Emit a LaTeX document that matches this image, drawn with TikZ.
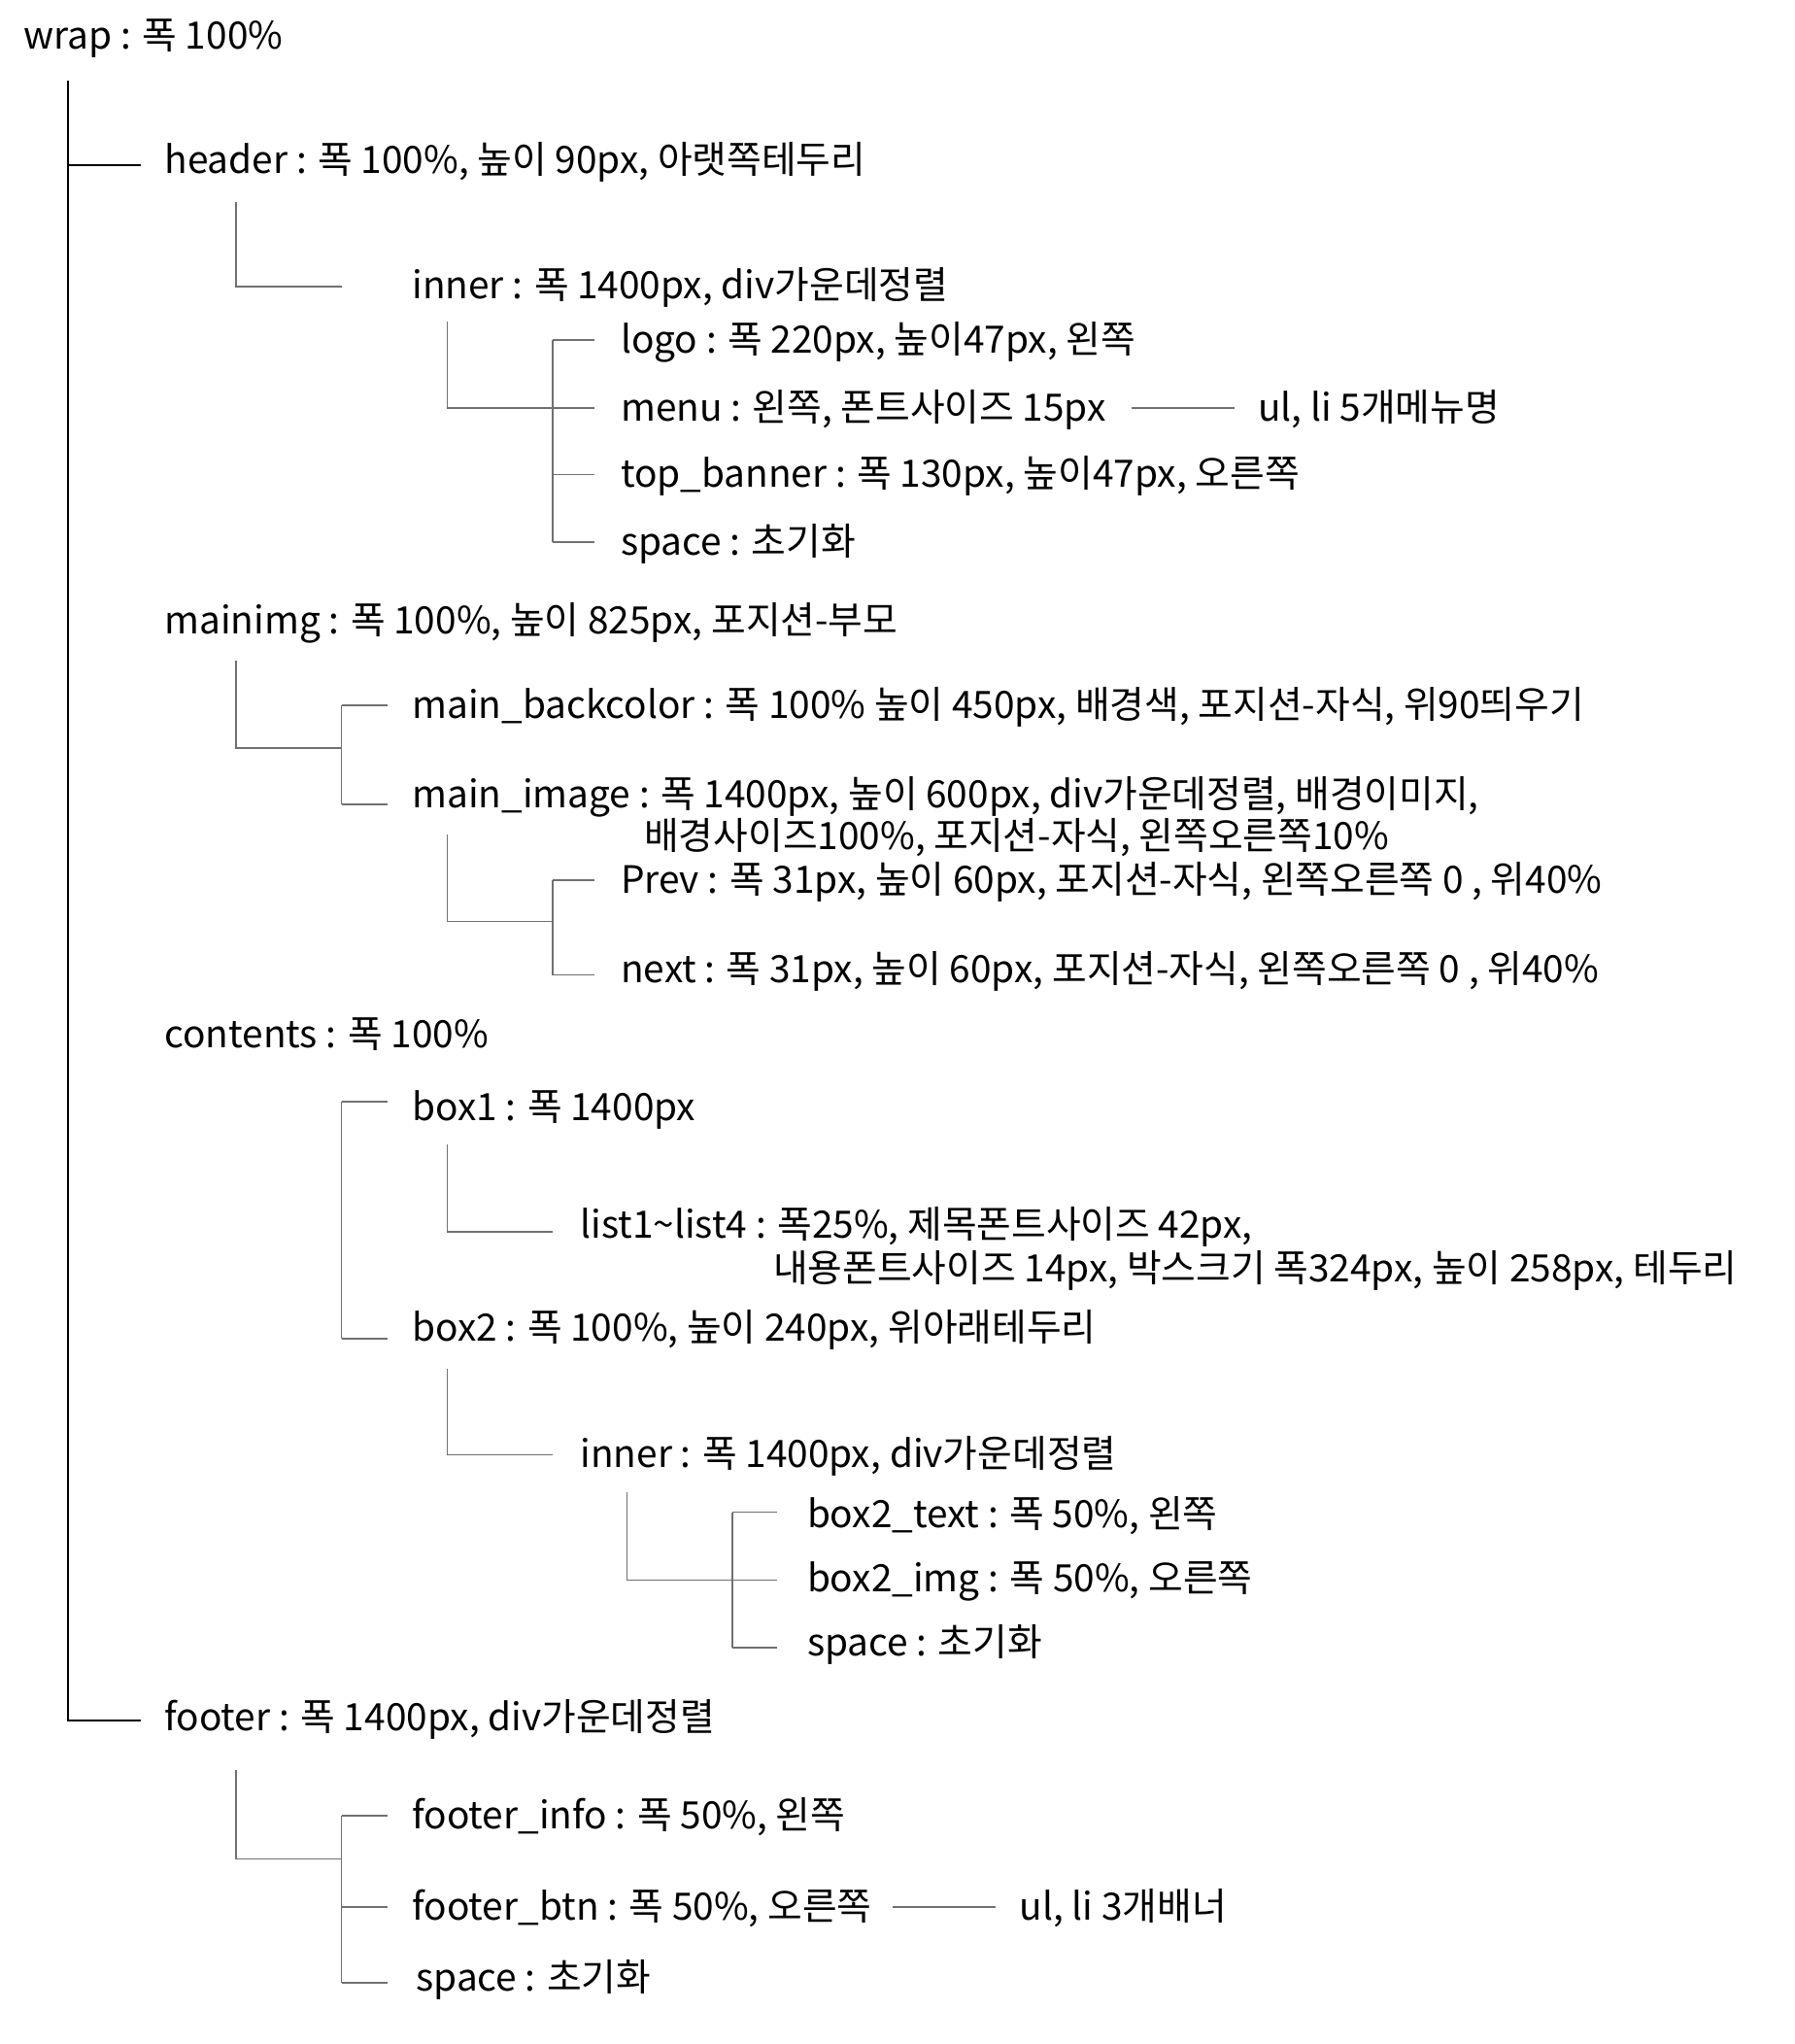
\documentclass[tikz,border=0pt]{standalone}
\usepackage{fontspec}
\setmainfont{Noto Sans CJK KR}
\definecolor{linegray}{RGB}{112,112,112}

\tikzset{
  lbl/.style={anchor=base west, inner sep=0pt, font=\fontsize{19.4}{23}\selectfont},
  trunk/.style={line width=1pt, black},
  branch/.style={line width=0.75pt, linegray},
}

\begin{document}
\begin{tikzpicture}[x=0.671pt, y=-0.671pt, line cap=butt, line join=miter]
\useasboundingbox (0,0) rectangle (1377,1568);

% texts
\node[lbl] (wrap) at (18,38) {wrap : 폭 100\%};
\node[lbl] (header) at (126,133) {header : 폭 100\%, 높이 90px, 아랫쪽테두리};
\node[lbl] (inner) at (316,229) {inner : 폭 1400px, div가운데정렬};
\node[lbl] (logo) at (476,271) {logo : 폭 220px, 높이47px, 왼쪽};
\node[lbl] (menu) at (476,323) {menu : 왼쪽, 폰트사이즈 15px};
\node[lbl] (menuul) at (965,323) {ul, li 5개메뉴명};
\node[lbl] (topbanner) at (476,374) {top\_banner : 폭 130px, 높이47px, 오른쪽};
\node[lbl] (hspace) at (476,426) {space : 초기화};
\node[lbl] (mainimg) at (126,486) {mainimg : 폭 100\%, 높이 825px, 포지션-부모};
\node[lbl] (backcolor) at (316,551) {main\_backcolor : 폭 100\% 높이 450px, 배경색, 포지션-자식, 위90띄우기};
\node[lbl] (mainimage) at (316,620) {main\_image : 폭 1400px, 높이 600px, div가운데정렬, 배경이미지,};
\node[lbl] (mainimageb) at (494,652) {배경사이즈100\%, 포지션-자식, 왼쪽오른쪽10\%};
\node[lbl] (prev) at (476,685) {Prev : 폭 31px, 높이 60px, 포지션-자식, 왼쪽오른쪽 0 , 위40\%};
\node[lbl] (next) at (476,754) {next : 폭 31px, 높이 60px, 포지션-자식, 왼쪽오른쪽 0 , 위40\%};
\node[lbl] (contents) at (126,804) {contents : 폭 100\%};
\node[lbl] (boxone) at (316,860) {box1 : 폭 1400px};
\node[lbl] (list) at (445,950) {list1\textasciitilde list4 : 폭25\%, 제목폰트사이즈 42px,};
\node[lbl] (listb) at (593,983) {내용폰트사이즈 14px, 박스크기 폭324px, 높이 258px, 테두리};
\node[lbl] (boxtwo) at (316,1029) {box2 : 폭 100\%, 높이 240px, 위아래테두리};
\node[lbl] (innertwo) at (445,1126) {inner : 폭 1400px, div가운데정렬};
\node[lbl] (btext) at (619,1172) {box2\_text : 폭 50\%, 왼쪽};
\node[lbl] (bimg) at (619,1221) {box2\_img : 폭 50\%, 오른쪽};
\node[lbl] (bspace) at (619,1270) {space : 초기화};
\node[lbl] (footer) at (126,1328) {footer : 폭 1400px, div가운데정렬};
\node[lbl] (finfo) at (316,1403) {footer\_info : 폭 50\%, 왼쪽};
\node[lbl] (fbtn) at (316,1473) {footer\_btn : 폭 50\%, 오른쪽};
\node[lbl] (fbtnul) at (782,1473) {ul, li 3개배너};
\node[lbl] (fspace) at (319,1527) {space : 초기화};

% trunk
\coordinate (wrapT) at (52,62);
\coordinate (headerL) at (108,127);
\coordinate (footerL) at (108,1320);
\draw[trunk] (wrapT) |- (footerL);
\draw[trunk] (52,127) -- (headerL);

% header
\coordinate (headerT) at (181,155);
\coordinate (innerL) at (262,220);
\draw[branch] (headerT) |- (innerL);
\coordinate (innerT) at (343,247);
\coordinate (innerK) at (424,313);
\draw[branch] (innerT) |- (innerK);
\draw[branch] (424,261) -- (424,416);
\foreach \y in {261,313,364,416}
  \draw[branch] (424,\y) -- (456,\y);
\coordinate (menuR) at (868,313);
\coordinate (menuulL) at (947,313);
\draw[branch] (menuR) -- (menuulL);

% mainimg
\coordinate (mainimgT) at (181,507);
\coordinate (mainimgK) at (262,574);
\draw[branch] (mainimgT) |- (mainimgK);
\draw[branch] (262,541) -- (262,617);
\foreach \y in {541,617}
  \draw[branch] (262,\y) -- (297,\y);
\coordinate (mainimageT) at (343,640);
\coordinate (mainimageK) at (424,707);
\draw[branch] (mainimageT) |- (mainimageK);
\draw[branch] (424,675) -- (424,748);
\foreach \y in {675,748}
  \draw[branch] (424,\y) -- (456,\y);

% contents
\draw[branch] (262,845) -- (262,1027);
\foreach \y in {845,1027}
  \draw[branch] (262,\y) -- (297,\y);
\coordinate (boxoneT) at (343,878);
\coordinate (listL) at (424,945);
\draw[branch] (boxoneT) |- (listL);
\coordinate (boxtwoT) at (343,1050);
\coordinate (innertwoL) at (424,1116);
\draw[branch] (boxtwoT) |- (innertwoL);
\coordinate (innertwoT) at (481,1145);
\coordinate (innertwoK) at (562,1212);
\draw[branch] (innertwoT) |- (innertwoK);
\draw[branch] (562,1160) -- (562,1264);
\foreach \y in {1160,1212,1264}
  \draw[branch] (562,\y) -- (596,\y);

% footer
\coordinate (footerT) at (181,1358);
\coordinate (footerK) at (262,1426);
\draw[branch] (footerT) |- (footerK);
\draw[branch] (262,1393) -- (262,1521);
\foreach \y in {1393,1463,1521}
  \draw[branch] (262,\y) -- (297,\y);
\coordinate (fbtnR) at (685,1463);
\coordinate (fbtnulL) at (764,1463);
\draw[branch] (fbtnR) -- (fbtnulL);

\end{tikzpicture}
\end{document}
